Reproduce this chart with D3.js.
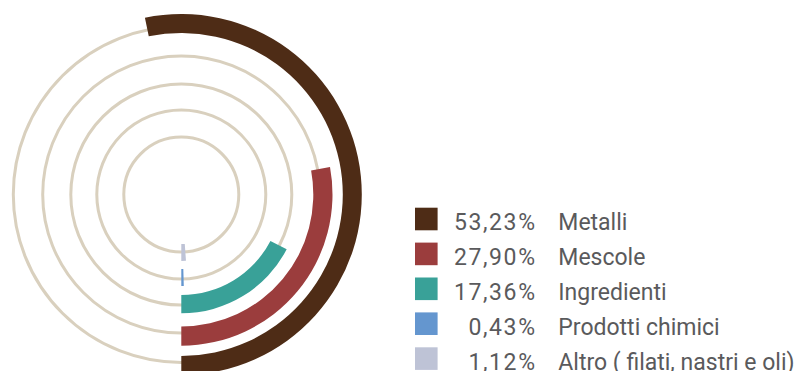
<!DOCTYPE html>
<html>
<head>
<meta charset="utf-8">
<script src="https://cdn.jsdelivr.net/npm/d3@7"></script>
<style>
  html, body { margin: 0; padding: 0; background: #ffffff; }
  svg { display: block; }
  text { font-family: Roboto, "Noto Sans", sans-serif; fill: #5a5a5c; }
</style>
</head>
<body>
<script>
// Materials share (%), one ring per category, outermost first
const categories = ["Metalli", "Mescole", "Ingredienti", "Prodotti chimici", "Altro ( filati, nastri e oli)"];
const values = [53.23, 27.90, 17.36, 0.43, 1.12];
const colors = ["#4e2c16", "#9b3d3d", "#39a198", "#6496cf", "#bec3d6"];

const width = 801, height = 371;
const cx = 181.3, cy = 194.5;

// Ring geometry: background track radius and bar band for each ring
const trackRadius = [168, 138.6, 110.5, 84.5, 57.5];
const barInner = [161.5, 132, 100.5, 74.5, 49.5];
const barOuter = [180.5, 151.2, 118.8, 91.5, 66.5];

const svg = d3.select("body").append("svg")
  .attr("width", width)
  .attr("height", height);

// Percent → angle, bars start at 6 o'clock and sweep through 3 o'clock
const angle = d3.scaleLinear().domain([0, 100]).range([0, 2 * Math.PI]);

const g = svg.append("g").attr("transform", `translate(${cx},${cy})`);

g.selectAll("circle.track")
  .data(categories)
  .join("circle")
  .attr("class", "track")
  .attr("r", (d, i) => trackRadius[i])
  .attr("fill", "none")
  .attr("stroke", "#d9d0be")
  .attr("stroke-width", 3);

const arc = d3.arc()
  .innerRadius(d => barInner[d.i])
  .outerRadius(d => barOuter[d.i])
  .startAngle(Math.PI)
  .endAngle(d => Math.PI - angle(d.v));

g.selectAll("path.bar")
  .data(values.map((v, i) => ({ v, i })))
  .join("path")
  .attr("class", "bar")
  .attr("d", arc)
  .attr("fill", d => colors[d.i]);

// Legend
const itLocale = d3.formatLocale({ decimal: ",", thousands: ".", grouping: [3], currency: ["", "€"] });
const pct = v => itLocale.format(".2f")(v) + "%";

const legendY = d3.scalePoint()
  .domain(categories)
  .range([207.7, 347.3]);

const legend = svg.append("g");
const rows = legend.selectAll("g.row")
  .data(categories)
  .join("g")
  .attr("class", "row")
  .attr("transform", d => `translate(0,${legendY(d)})`);

rows.append("rect")
  .attr("x", 415)
  .attr("y", 0)
  .attr("width", 22.6)
  .attr("height", 22.6)
  .attr("fill", (d, i) => colors[i]);

rows.append("text")
  .attr("x", 536.6)
  .attr("y", 22.8)
  .attr("text-anchor", "end")
  .style("font-size", "23px")
  .style("letter-spacing", "1.6px")
  .text((d, i) => pct(values[i]));

rows.append("text")
  .attr("x", 558.3)
  .attr("y", 22.8)
  .style("font-size", "23px")
  .text(d => d);
</script>
</body>
</html>
